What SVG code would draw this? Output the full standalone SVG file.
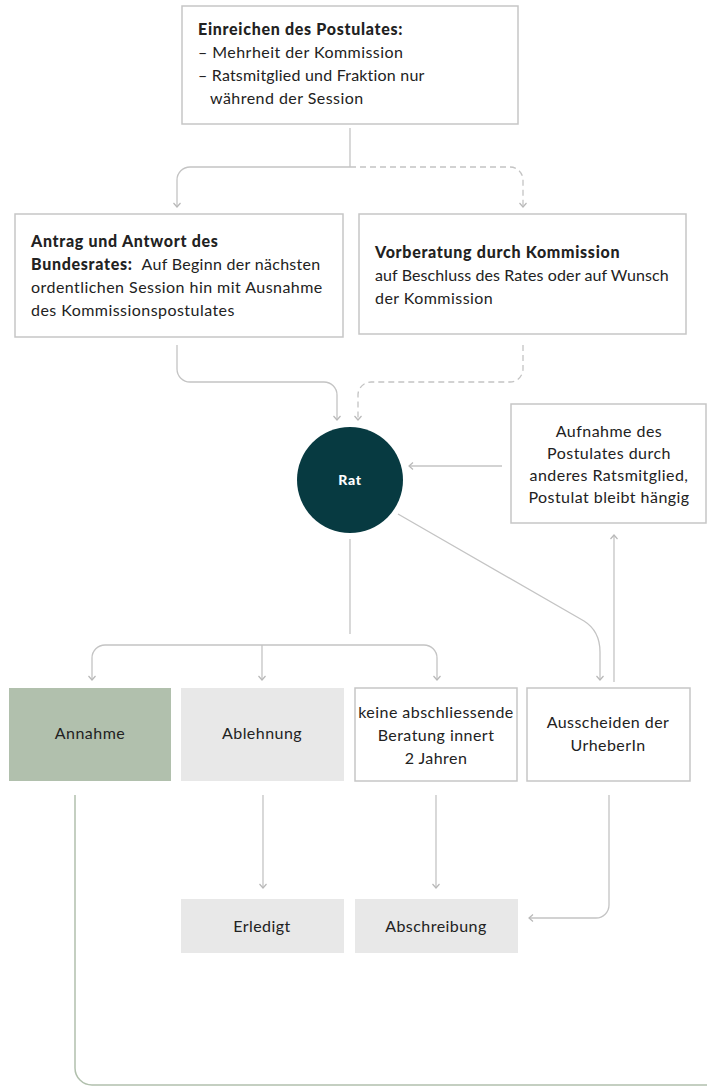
<svg xmlns="http://www.w3.org/2000/svg" width="707" height="1086" viewBox="0 0 707 1086">
<defs>
<style>
.box{fill:#ffffff;stroke:#c6c6c6;stroke-width:1.5}
.grey{fill:#e8e8e8;stroke:none}
.green{fill:#b1c0ad;stroke:none}
.t{font-family:Lato,"Noto Sans","Liberation Sans",sans-serif;font-size:16px;letter-spacing:0.45px;fill:#222222}
.b{font-weight:900;letter-spacing:0.7px}
.c{text-anchor:middle}
.ln{fill:none;stroke:#c4c4c4;stroke-width:1.3}
.dash{stroke-dasharray:6 4}
</style>
<marker id="arr" viewBox="0 0 10 10" refX="6" refY="5" markerWidth="10" markerHeight="10" markerUnits="userSpaceOnUse" orient="auto">
<path d="M2,1.5 L6,5 L2,8.5" fill="none" stroke="#b8b8b8" stroke-width="1.2"/>
</marker>
</defs>
<rect width="707" height="1086" fill="#ffffff"/>

<g id="connectors">
<path class="ln" d="M350,128 V167"/>
<path class="ln" d="M350,167 H190 A13,13 0 0 0 177,180 V207" marker-end="url(#arr)"/>
<path class="ln dash" d="M350,167 H510 A13,13 0 0 1 523,180 V207" marker-end="url(#arr)"/>
<path class="ln" d="M177,345 V369 A13,13 0 0 0 190,382 H324 A13,13 0 0 1 337,395 V420" marker-end="url(#arr)"/>
<path class="ln dash" d="M523,345 V369 A13,13 0 0 1 510,382 H371 A13,13 0 0 0 358,395 V420" marker-end="url(#arr)"/>
<path class="ln" d="M502,466 H409" marker-end="url(#arr)"/>
<path class="ln" d="M350,539 V634"/>
<path class="ln" d="M262,645 H105 A13,13 0 0 0 92,658 V680" marker-end="url(#arr)"/>
<path class="ln" d="M262,645 H424 A13,13 0 0 1 437,658 V680" marker-end="url(#arr)"/>
<path class="ln" d="M262,645 V680" marker-end="url(#arr)"/>
<path class="ln" d="M398,514 L584,621 Q600,631 600,652 V680" marker-end="url(#arr)"/>
<path class="ln" d="M614,682 V535" marker-end="url(#arr)"/>
<path class="ln" d="M263,795 V888" marker-end="url(#arr)"/>
<path class="ln" d="M436,795 V888" marker-end="url(#arr)"/>
<path class="ln" d="M609,795 V905 A13,13 0 0 1 596,918 H529" marker-end="url(#arr)"/>
<path d="M75,795 V1068 A17,17 0 0 0 92,1085 H707" fill="none" stroke="#b1c0ad" stroke-width="1.5"/>
</g>

<g id="einreichen">
<rect class="box" x="182" y="6" width="336" height="118"/>
<text class="t b" x="198" y="35">Einreichen des Postulates:</text>
<text class="t" x="198" y="58">– Mehrheit der Kommission</text>
<text class="t" x="198" y="81" style="letter-spacing:0.2px">– Ratsmitglied und Fraktion nur</text>
<text class="t" x="210" y="104">während der Session</text>
</g>

<g id="antrag">
<rect class="box" x="15" y="214" width="328" height="123"/>
<text class="t b" x="31" y="247">Antrag und Antwort des</text>
<text class="t" x="31" y="270" style="letter-spacing:0.3px"><tspan class="b">Bundesrates:</tspan><tspan dx="5"> Auf Beginn der nächsten</tspan></text>
<text class="t" x="31" y="293">ordentlichen Session hin mit Ausnahme</text>
<text class="t" x="31" y="316">des Kommissionspostulates</text>
</g>

<g id="vorberatung">
<rect class="box" x="359" y="214" width="327" height="120"/>
<text class="t b" x="375" y="258">Vorberatung durch Kommission</text>
<text class="t" x="375" y="281" style="letter-spacing:0.1px">auf Beschluss des Rates oder auf Wunsch</text>
<text class="t" x="375" y="304">der Kommission</text>
</g>

<g id="rat">
<circle cx="350" cy="480" r="53" fill="#073a41"/>
<text class="t b c" x="350" y="485" style="fill:#ffffff;font-size:14px">Rat</text>
</g>

<g id="aufnahme">
<rect class="box" x="511" y="404" width="195" height="119"/>
<text class="t c" x="609" y="437">Aufnahme des</text>
<text class="t c" x="609" y="459">Postulates durch</text>
<text class="t c" x="609" y="481">anderes Ratsmitglied,</text>
<text class="t c" x="609" y="503">Postulat bleibt hängig</text>
</g>

<g id="annahme">
<rect class="green" x="9" y="688" width="162" height="93"/>
<text class="t c" x="90" y="739">Annahme</text>
</g>

<g id="ablehnung">
<rect class="grey" x="181" y="688" width="163" height="93"/>
<text class="t c" x="262" y="739">Ablehnung</text>
</g>

<g id="keine">
<rect class="box" x="355" y="688" width="162" height="93"/>
<text class="t c" x="436" y="718">keine abschliessende</text>
<text class="t c" x="436" y="741">Beratung innert</text>
<text class="t c" x="436" y="764">2 Jahren</text>
</g>

<g id="ausscheiden">
<rect class="box" x="527" y="688" width="163" height="93"/>
<text class="t c" x="608" y="728">Ausscheiden der</text>
<text class="t c" x="608" y="751">UrheberIn</text>
</g>

<g id="erledigt">
<rect class="grey" x="181" y="899" width="163" height="54"/>
<text class="t c" x="262" y="932">Erledigt</text>
</g>

<g id="abschreibung">
<rect class="grey" x="355" y="899" width="163" height="54"/>
<text class="t c" x="436" y="932">Abschreibung</text>
</g>
</svg>
